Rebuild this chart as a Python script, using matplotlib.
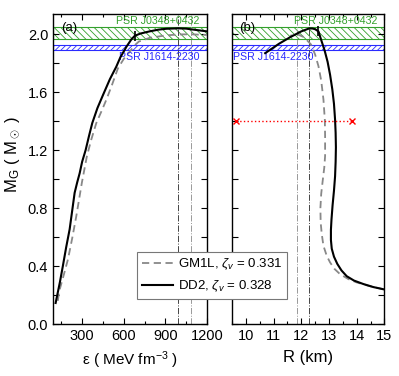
import numpy as np
import matplotlib
matplotlib.use("Agg")
import matplotlib.pyplot as plt
from matplotlib.patches import Rectangle
from matplotlib.ticker import MultipleLocator

plt.rcParams["font.family"] = ["Liberation Sans", "DejaVu Sans"]
plt.rcParams["mathtext.fontset"] = "custom"
plt.rcParams["mathtext.rm"] = "Liberation Sans"
plt.rcParams["mathtext.it"] = "Liberation Sans:italic"
plt.rcParams["hatch.linewidth"] = 0.6

# panel (a): M_G vs central energy density
eps_dd2 = [109, 125, 140, 161, 185, 210, 228, 246, 265, 282, 300, 325, 350, 373, 410, 450, 500,
           546, 575, 620, 655, 680, 720, 786, 850, 906, 989, 1050, 1120, 1200]
m_dd2_a = [0.145, 0.22, 0.29, 0.40, 0.53, 0.654, 0.78, 0.906, 0.98, 1.04, 1.12, 1.20, 1.30, 1.387, 1.49, 1.58, 1.69,
           1.776, 1.84, 1.915, 1.965, 1.99, 2.005, 2.02, 2.032, 2.038, 2.041, 2.039, 2.03, 2.02]
eps_gm1l = [125, 133, 165, 198, 228, 258, 278, 298, 334, 365, 402, 440, 474, 515, 558, 600, 643, 680, 709,
            786, 900, 1000, 1082, 1200]
m_gm1l_a = [0.16, 0.22, 0.33, 0.447, 0.59, 0.745, 0.86, 0.975, 1.157, 1.27, 1.387, 1.47, 1.547, 1.65, 1.765, 1.83,
            1.88, 1.925, 1.95, 1.975, 1.992, 1.999, 2.0, 1.995]

# panel (b): M_G vs radius
r_dd2 = [14.96, 14.6, 14.24, 13.9, 13.64, 13.45, 13.3, 13.18, 13.1, 13.07, 13.07, 13.09, 13.13, 13.18, 13.22,
         13.24, 13.25, 13.24, 13.22, 13.18, 13.12, 13.04, 12.95, 12.84, 12.72, 12.62, 12.5, 12.4, 12.28, 12.0,
         11.6, 11.2, 10.7]
m_dd2_b = [0.24, 0.255, 0.276, 0.30, 0.33, 0.37, 0.415, 0.465, 0.52, 0.58, 0.65, 0.72, 0.82, 0.92, 1.02,
           1.12, 1.22, 1.32, 1.41, 1.52, 1.62, 1.72, 1.81, 1.89, 1.96, 2.02, 2.035, 2.04, 2.04, 2.02,
           1.98, 1.935, 1.87]
r_gm1l = [14.96, 14.5, 14.0, 13.7, 13.4, 13.2, 13.04, 12.92, 12.8, 12.74, 12.7, 12.69, 12.72, 12.78, 12.83,
          12.86, 12.86, 12.85, 12.8, 12.72, 12.62, 12.5, 12.35, 12.1, 11.86, 11.6]
m_gm1l_b = [0.24, 0.26, 0.287, 0.31, 0.344, 0.38, 0.425, 0.47, 0.54, 0.62, 0.7, 0.8, 0.9, 1.0, 1.08,
            1.16, 1.3, 1.41, 1.55, 1.68, 1.78, 1.86, 1.93, 1.98, 2.0, 1.99]

# onset markers
tick_eps, tick_m_a = 680, 1.99
tick_r, tick_m_b = 12.62, 2.02

# maximum mass configurations
eps_max = {"DD2": 989, "GM1L": 1082}
r_max = {"DD2": 12.28, "GM1L": 11.86}

# pulsar bands
j0348 = (1.966, 2.048)
j1614 = (1.892, 1.924)

# canonical 1.4 Msun radius range
r14 = [9.64, 13.82]
m14 = [1.4, 1.4]

fig = plt.figure(figsize=(3.99, 3.76), dpi=100)
ax1 = fig.add_axes([53 / 399, 1 - 324 / 376, 154 / 399, 310 / 376])
ax2 = fig.add_axes([232 / 399, 1 - 324 / 376, 152.4 / 399, 310 / 376])

green = "#33a02c"
blue = "#2b2bff"
dash = (0, (4, 2.5))

for ax, xlim in ((ax1, (90, 1200)), (ax2, (9.5, 15))):
    ax.set_xlim(*xlim)
    ax.set_ylim(0, 2.14)
    ax.add_patch(Rectangle((xlim[0], j0348[0]), xlim[1] - xlim[0], j0348[1] - j0348[0],
                           facecolor="none", edgecolor=green, hatch="\\\\\\\\\\", lw=0.8, zorder=1))
    ax.add_patch(Rectangle((xlim[0], j1614[0]), xlim[1] - xlim[0], j1614[1] - j1614[0],
                           facecolor="none", edgecolor=blue, hatch="//////", lw=0.8, zorder=1))
    ax.yaxis.set_major_locator(MultipleLocator(0.4))
    ax.yaxis.set_minor_locator(MultipleLocator(0.2))
    ax.tick_params(which="both", direction="in", top=True, right=True, labelsize=10.5)
    ax.tick_params(which="major", length=4, width=0.8)
    ax.tick_params(which="minor", length=2.5, width=0.8)
    ax.tick_params(axis="y", which="minor", length=4)
    for s in ax.spines.values():
        s.set_linewidth(1.0)

ax1.xaxis.set_major_locator(MultipleLocator(300))
ax1.xaxis.set_minor_locator(MultipleLocator(150))
ax2.xaxis.set_major_locator(MultipleLocator(1))
ax2.xaxis.set_minor_locator(MultipleLocator(0.5))
ax2.set_yticklabels([])
ax1.set_xticks([300, 600, 900, 1200])

# panel (a)
ax1.plot(eps_gm1l, m_gm1l_a, ls=dash, color="#888888", lw=1.3, zorder=3)
ax1.plot(eps_dd2, m_dd2_a, color="black", lw=1.5, zorder=4)
ax1.plot([tick_eps], [tick_m_a], marker="|", ms=7, mew=1.2, color="black", zorder=5)
ax1.axvline(eps_max["DD2"], color="#444444", ls="-.", lw=0.7, zorder=2)
ax1.axvline(eps_max["GM1L"], color="#999999", ls="-.", lw=0.7, zorder=2)
ax1.text(0.05, 0.975, "(a)", transform=ax1.transAxes, ha="left", va="top", fontsize=9.5)
ax1.text(1147, 2.055, "PSR J0348+0432", color=green, ha="right", va="bottom", fontsize=7.7)
ax1.text(1147, 1.875, "PSR J1614-2230", color=blue, ha="right", va="top", fontsize=7.7)
ax1.set_xlabel(r"ε ( MeV fm$^{-3}$ )", fontsize=11, labelpad=5)
ax1.set_ylabel(r"M$_\mathrm{G}$ ( M$_\odot$ )", fontsize=12)
ax1.yaxis.set_label_coords(-0.2, 0.545)

# panel (b)
ax2.plot(r_gm1l, m_gm1l_b, ls=dash, color="#888888", lw=1.3, zorder=3)
ax2.plot(r_dd2, m_dd2_b, color="black", lw=1.5, zorder=4)
ax2.plot([tick_r], [tick_m_b], marker="|", ms=7, mew=1.2, color="black", zorder=5)
ax2.axvline(r_max["DD2"], color="#444444", ls="-.", lw=0.7, zorder=2)
ax2.axvline(r_max["GM1L"], color="#999999", ls="-.", lw=0.7, zorder=2)
ax2.plot(r14, m14, ls=":", color="red", lw=1.0, marker="x", ms=5, mew=1.0, zorder=5)
ax2.text(0.05, 0.975, "(b)", transform=ax2.transAxes, ha="left", va="top", fontsize=9.5)
ax2.text(14.73, 2.055, "PSR J0348+0432", color=green, ha="right", va="bottom", fontsize=7.7)
ax2.text(9.55, 1.875, "PSR J1614-2230", color=blue, ha="left", va="top", fontsize=7.7)
ax2.set_xlabel("R (km)", fontsize=12, labelpad=5)

h1, = ax1.plot([], [], ls=dash, color="#888888", lw=1.3)
h2, = ax1.plot([], [], color="black", lw=1.5)
leg = fig.legend([h1, h2], [r"GM1L, $\zeta_v$ = 0.331", r"DD2, $\zeta_v$ = 0.328"],
                 loc="upper left", bbox_to_anchor=(137 / 399, 1 - 252 / 376), borderaxespad=0,
                 fontsize=9.5, frameon=True, fancybox=False, edgecolor="#777777",
                 framealpha=1, handlelength=2.4, borderpad=0.35, labelspacing=0.5, handletextpad=0.35)
leg.get_frame().set_linewidth(0.8)
leg.set_zorder(10)

fig.savefig("out.png", dpi=100)
